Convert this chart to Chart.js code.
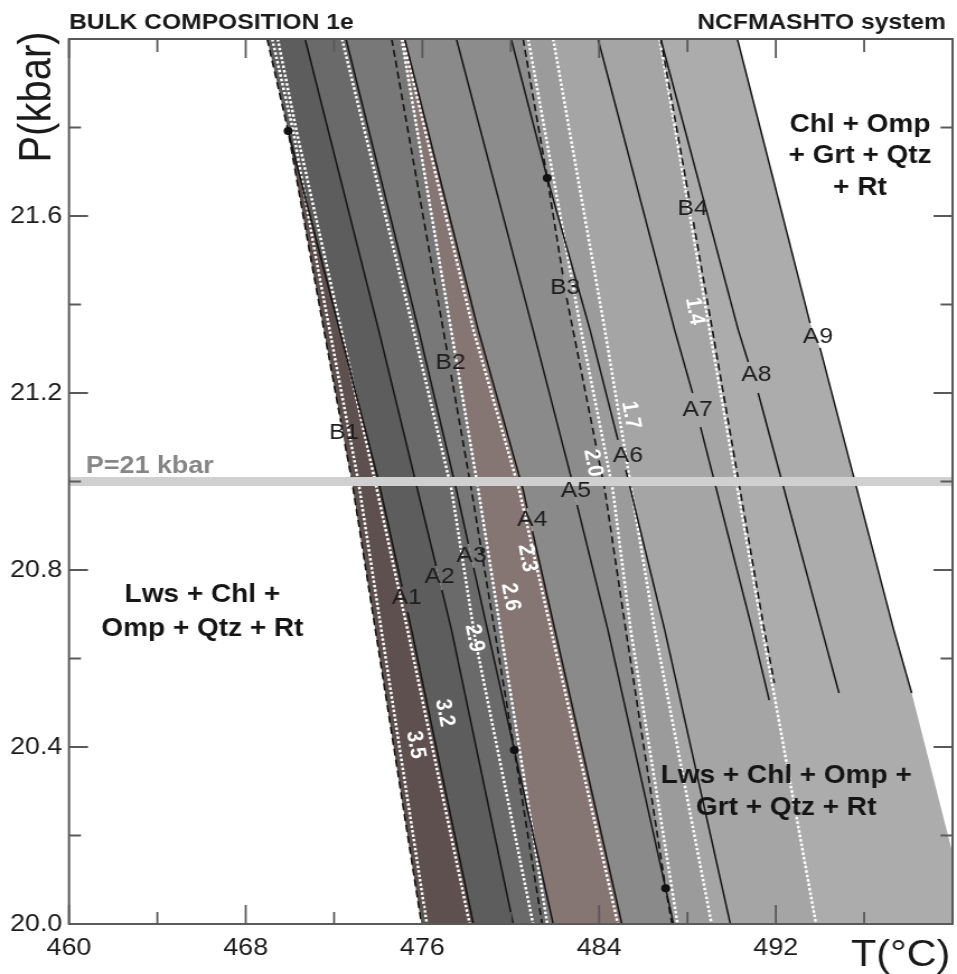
<!DOCTYPE html>
<html>
<head>
<meta charset="utf-8">
<script src="https://cdn.jsdelivr.net/npm/chart.js@4.4.0/dist/chart.umd.min.js"></script>
<style>
  html, body { margin: 0; padding: 0; background: #fff; }
  canvas { display: block; }
</style>
</head>
<body>
<!-- the figure is slightly stretched sideways, so the canvas is too -->
<canvas id="c" width="855" height="974" style="width:957px;height:974px"></canvas>
<script>
const S = 957 / 855;

// axis tick labels
const xTickLabels = [460, 468, 476, 484, 492];
const yTickLabels = [20.0, 20.4, 20.8, 21.2, 21.6];
const refP = 21;

// reaction lines as [T, P], from 22 kbar down; a third item 1 hides the next piece (label sits there)
const A1 = [[469.92, 21.792], [474.02, 21.0], [475.08, 20.762, 1], [475.33, 20.705], [475.51, 20.664], [478.31, 20.0]];
const A2 = [[470.69, 22], [474.02, 21.342], [475.69, 21.0], [476.62, 20.809, 1], [476.88, 20.755], [477.32, 20.664], [480.11, 20.0]];
const A3 = [[472.54, 22], [475.83, 21.342], [477.54, 20.981], [478.08, 20.859, 1], [478.32, 20.805], [480.16, 20.393], [481.92, 20.0]];
const A4 = [[475.2, 22], [478.53, 21.342], [480.56, 20.981], [480.74, 20.94, 1], [480.98, 20.888], [485.03, 20.0]];
const A5 = [[477.54, 22], [481.01, 21.342], [482.73, 21.01, 1], [483.0, 20.947], [484.40, 20.664], [487.01, 20.081], [487.37, 20.0]];
const A6 = [[480.02, 22], [481.65, 21.686], [483.59, 21.342], [484.85, 21.094, 1], [485.21, 21.026], [485.84, 20.895], [486.97, 20.664], [489.94, 20.0]];
const A7 = [[483.95, 22], [487.42, 21.342], [488.23, 21.2, 1], [488.59, 21.123], [490.94, 20.664], [491.70, 20.506]];
const A8 = [[486.79, 22], [490.3, 21.342], [490.75, 21.27, 1], [491.2, 21.2], [494.09, 20.664], [494.86, 20.522]];
const A9 = [[490.26, 22], [493.55, 21.358, 1], [494.0, 21.302], [497.34, 20.664], [498.15, 20.522]];
const fieldEdge = [[500.82, 20.0]];

const B1 = [[468.97, 22], [469.92, 21.792], [470.96, 21.5], [472.31, 21.134, 1], [472.49, 21.085], [472.81, 21.0], [474.39, 20.5], [475.96, 20.0]];
const B2 = [[474.61, 22], [477.12, 21.293, 1], [477.30, 21.241], [478.22, 20.981], [480.16, 20.393], [481.42, 20.0]];
const B3 = [[480.56, 22], [481.65, 21.686], [482.38, 21.46, 1], [482.53, 21.415], [484.26, 20.981], [485.21, 20.664], [487.01, 20.081], [487.3, 20.0]];
const B4 = [[486.79, 22], [488.07, 21.641, 1], [488.27, 21.586], [489.13, 21.342], [491.48, 20.664], [491.93, 20.545]];

// isopleths
const I35 = [[469.2, 22], [470.15, 21.792], [471.2, 21.5], [473.1, 21.0], [474.65, 20.5], [476.2, 20.0]];
const I32 = [[469.45, 22], [470.3, 21.792], [473.86, 21.0], [475.33, 20.664], [478.14, 20.0]];
const I29 = [[472.36, 22], [475.6, 21.342], [477.32, 20.981], [478.4, 20.64], [481.01, 20.0]];
const I26 = [[475.06, 22], [477.3, 21.342], [478.53, 20.981], [481.65, 20.0]];
const I23 = [[475.12, 22], [478.31, 21.342], [480.38, 20.981], [484.85, 20.0]];
const I20 = [[480.79, 22], [483.18, 21.342], [484.62, 20.981], [485.43, 20.664], [487.55, 20.0]];
const I17 = [[481.92, 22], [484.26, 21.342], [486.52, 20.664], [489.09, 20.0]];
const I14 = [[486.74, 22], [489.0, 21.342], [491.39, 20.664], [493.82, 20.0]];

// invariant points
const dotT = [469.92, 481.65, 480.16, 487.01];
const dotP = [21.792, 21.686, 20.393, 20.081];

// labels
const lineNames = ['A1', 'A2', 'A3', 'A4', 'A5', 'A6', 'A7', 'A8', 'A9', 'B1', 'B2', 'B3', 'B4'];
const lineNameT = [475.29, 476.78, 478.22, 480.97, 482.95, 485.30, 488.46, 491.12, 493.91, 472.45, 477.27, 482.46, 488.23];
const lineNameP = [20.737, 20.784, 20.832, 20.913, 20.979, 21.058, 21.162, 21.241, 21.327, 21.110, 21.268, 21.437, 21.616];

const isoNames = ['3.5', '3.2', '2.9', '2.6', '2.3', '2.0', '1.7', '1.4'];
const isoNameT = [475.69, 477.00, 478.35, 479.98, 480.74, 483.72, 485.43, 488.32];
const isoNameP = [20.405, 20.477, 20.646, 20.739, 20.827, 21.042, 21.150, 21.385];

const fieldText = ['Lws + Chl +', 'Omp + Qtz + Rt', 'Chl + Omp', '+ Grt + Qtz', '+ Rt', 'Lws + Chl + Omp +', 'Grt + Qtz + Rt'];
const fieldT = [466.04, 466.04, 495.81, 495.81, 495.81, 492.47, 492.47];
const fieldP = [20.728, 20.651, 21.790, 21.720, 21.647, 20.319, 20.246];

const pts = line => line.map(q => ({ x: q[0], y: q[1] }));
const poly = (left, right) => pts(left.concat(right.slice().reverse()));

const fields = [
  [B1, A2, '#5d5d5d'],
  [B1.filter(q => q[1] <= dotP[0]), A1, '#5f5050'],
  [A2, A3, '#6a6a6a'],
  [I26, A4, '#857573'],
  [A3, I26, '#787878'],
  [A4, A5, '#8a8a8a'],
  [A5, I14, '#a5a5a5'],
  [A5, B3, '#8c8c8c'],
  [B3, I17, '#9b9b9b'],
  [I14, A9.concat(fieldEdge), '#acacac']
];

function lineSet(line, color, width, dash) {
  return {
    data: pts(line), borderColor: color, borderWidth: width, borderDash: dash, fill: false, pointRadius: 0,
    segment: { borderColor: c => (line[c.p0DataIndex][2] ? 'rgba(0,0,0,0)' : undefined) }
  };
}

const datasets = [];
fields.forEach(([l, r, c]) => datasets.push({ data: poly(l, r), fill: 'shape', backgroundColor: c, borderWidth: 0, pointRadius: 0 }));
[I35, I32, I29, I26, I23, I20, I17, I14].forEach(l => datasets.push(lineSet(l, '#ffffff', 2.5, [2.5, 2])));
[B1, B2, B3, B4].forEach(l => datasets.push(lineSet(l, '#141414', 1.6, [7, 4])));
[A1, A2, A3, A4, A5, A6, A7, A8, A9].forEach(l => datasets.push(lineSet(l, '#141414', 1.5, [])));
datasets.push({ data: [{ x: 460, y: refP }, { x: 500, y: refP }], borderColor: '#d0d0d0', borderWidth: 9, fill: false, pointRadius: 0 });
datasets.push({
  data: dotT.map((t, i) => ({ x: t, y: dotP[i] })), showLine: false,
  pointRadius: 4, pointBackgroundColor: '#111', pointBorderWidth: 0
});
datasets.forEach((d, i) => { d.order = datasets.length - i; });

const font = (w, s) => `${w} ${s}px "Liberation Sans", Arial, sans-serif`;

const decor = {
  id: 'decor',
  afterDraw(chart) {
    const { ctx, chartArea: a } = chart;
    const x = chart.scales.x, y = chart.scales.y;
    ctx.save();

    // frame and inward ticks
    ctx.strokeStyle = '#5a5a5a';
    ctx.lineWidth = 2;
    ctx.strokeRect(a.left, a.top, a.right - a.left, a.bottom - a.top);
    ctx.lineWidth = 1.8;
    ctx.beginPath();
    x.ticks.forEach(t => {
      const px = x.getPixelForValue(t.value);
      const major = xTickLabels.includes(t.value);
      ctx.moveTo(px, a.bottom); ctx.lineTo(px, a.bottom - (major ? 19 : 12));
      ctx.moveTo(px, a.top); ctx.lineTo(px, a.top + (major ? 19 : 13));
    });
    y.ticks.forEach(t => {
      const py = y.getPixelForValue(t.value);
      const major = Math.round(t.value * 10) % 4 === 0;
      const len = (major ? 19 : 12) / S;
      ctx.moveTo(a.left, py); ctx.lineTo(a.left + len, py);
      ctx.moveTo(a.right, py); ctx.lineTo(a.right - len, py);
    });
    ctx.stroke();

    // titles
    ctx.fillStyle = '#1a1a1a';
    ctx.textBaseline = 'alphabetic';
    ctx.font = font('bold', 22);
    ctx.textAlign = 'left';
    ctx.fillText('BULK COMPOSITION 1e', a.left, 29);
    ctx.textAlign = 'right';
    ctx.fillText('NCFMASHTO system', a.right - 6, 29);

    ctx.font = font('normal', 37);
    ctx.fillText('T(°C)', a.right - 2, 966);
    ctx.save();
    ctx.translate(50 / S, 97);
    ctx.rotate(-Math.PI / 2);
    ctx.textAlign = 'center';
    ctx.font = font('normal', 40);
    ctx.fillText('P(kbar)', 0, 0);
    ctx.restore();

    // reference pressure
    ctx.textAlign = 'left';
    ctx.fillStyle = '#858585';
    ctx.font = font('bold', 24);
    ctx.fillText('P=21 kbar', x.getPixelForValue(460.77), y.getPixelForValue(refP) - 9);

    // field names
    ctx.fillStyle = '#151515';
    ctx.textAlign = 'center';
    ctx.font = font('bold', 25);
    fieldText.forEach((s, i) => ctx.fillText(s, x.getPixelForValue(fieldT[i]), y.getPixelForValue(fieldP[i])));

    // reaction names
    ctx.textBaseline = 'middle';
    ctx.font = font('normal', 22);
    ctx.fillStyle = '#1e1e1e';
    lineNames.forEach((s, i) => ctx.fillText(s, x.getPixelForValue(lineNameT[i]), y.getPixelForValue(lineNameP[i])));

    // isopleth values
    ctx.fillStyle = '#ffffff';
    ctx.font = font('bold', 20);
    isoNames.forEach((s, i) => {
      ctx.save();
      ctx.translate(x.getPixelForValue(isoNameT[i]), y.getPixelForValue(isoNameP[i]));
      ctx.rotate(1.40);
      ctx.fillText(s, 0, 0);
      ctx.restore();
    });
    ctx.restore();
  }
};

new Chart(document.getElementById('c'), {
  type: 'line',
  data: { datasets },
  options: {
    responsive: false,
    animation: false,
    devicePixelRatio: 1,
    events: [],
    layout: { padding: { left: 0, right: 1, top: 39, bottom: 0 } },
    plugins: { legend: { display: false }, tooltip: { enabled: false } },
    elements: { point: { radius: 0, hoverRadius: 0 }, line: { tension: 0, borderCapStyle: 'butt' } },
    scales: {
      x: {
        type: 'linear', min: 460, max: 500,
        grid: { display: false, drawTicks: false, tickLength: 0 },
        border: { display: false },
        ticks: {
          stepSize: 4, autoSkip: false, maxRotation: 0, padding: 10, color: '#1a1a1a',
          font: { family: '"Liberation Sans", Arial, sans-serif', size: 24 },
          callback: v => (xTickLabels.includes(v) ? String(v) : '')
        },
        afterFit: s => { s.height = 50; s.paddingRight = 0; }
      },
      y: {
        type: 'linear', min: 20, max: 22,
        grid: { display: false, drawTicks: false, tickLength: 0 },
        border: { display: false },
        ticks: {
          stepSize: 0.2, autoSkip: false, padding: 6, color: '#1a1a1a',
          font: { family: '"Liberation Sans", Arial, sans-serif', size: 24 },
          callback: v => {
            const l = yTickLabels.find(q => Math.abs(q - v) < 1e-6);
            return l === undefined ? '' : l.toFixed(1);
          }
        },
        afterFit: s => { s.width = 69 / S; }
      }
    }
  },
  plugins: [decor]
});
</script>
</body>
</html>
